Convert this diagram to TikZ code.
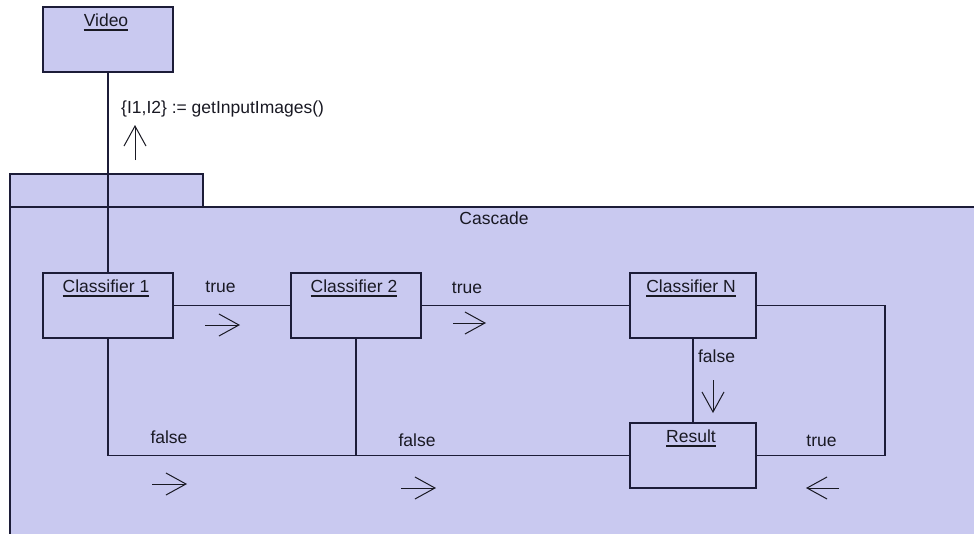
\documentclass[tikz,border=0pt]{standalone}
\usepackage{fontspec}
\setmainfont{Liberation Sans}
\usetikzlibrary{arrows.meta}
\definecolor{umlfill}{RGB}{201,201,240}
\definecolor{umlline}{RGB}{28,28,56}
\definecolor{umltext}{RGB}{25,25,35}
\begin{document}
\begin{tikzpicture}[x=1pt,y=-1pt,
  every node/.style={font=\fontsize{17.5}{20}\selectfont, text=umltext},
  obj/.style={draw=umlline, fill=umlfill, line width=1.4pt, minimum width=130pt, minimum height=65pt, inner sep=0pt},
  objname/.style={anchor=base, inner sep=0pt},
  lbl/.style={anchor=base, inner sep=0pt},
  conn/.style={draw=umlline, line width=1.4pt},
  flow/.style={draw=umltext, line width=1pt, -{Straight Barb[length=20pt,width=22pt]}}]
\useasboundingbox (0,0) rectangle (974,533);
\fill[white] (0,0) rectangle (974,533);
% package
\fill[umlfill] (10,174) rectangle (203,207);
\fill[umlfill] (10,207) rectangle (976,535);
\draw[conn] (10,207) -- (10,174) -- (203,174) -- (203,207);
\draw[conn] (976,207) -- (10,207) -- (10,535);
\node[lbl] (cascade) at (494,224) {Cascade};
% objects
\node[obj] (video) at (108,39.5) {};
\node[obj] (c1) at (108,305.5) {};
\node[obj] (c2) at (356,305.5) {};
\node[obj, minimum width=126pt] (cn) at (693,305.5) {};
\node[obj, minimum width=126pt] (res) at (693,455.5) {};
% names
\foreach \n/\t in {video/Video, c1/Classifier 1, c2/Classifier 2, cn/Classifier N, res/Result}{
  \node[objname] (\n t) at ([xshift=-2pt,yshift=-20pt]\n.north) {\t};
  \draw[umltext, line width=1.5pt] ([yshift=-3.5pt]\n t.base west) -- ([yshift=-3.5pt]\n t.base east);
}
% connectors
\draw[conn] (video) -- (c1);
\draw[conn] (c1) -- (c2);
\draw[conn] (c2) -- (cn);
\draw[conn] (c1.south) |- (res.west);
\draw[conn] (c2.south) -- (c2.south |- res.west);
\draw[conn] (cn) -- (res);
\coordinate (rt) at (885,305.5);
\draw[conn] (cn.east) -- (rt) |- (res.east);
% labels
\node[lbl, anchor=base west] (msg) at (121,113) {\{I1,I2\} := getInputImages()};
\node[lbl] (t1) at (220.5,292) {true};
\node[lbl] (t2) at (467,293) {true};
\node[lbl] (f1) at (169,443) {false};
\node[lbl] (f2) at (417,446) {false};
\node[lbl] (fn) at (716.5,362) {false};
\node[lbl] (t3) at (821.5,446) {true};
% message arrows
\coordinate (a0s) at (135,160); \coordinate (a0e) at (135,125);
\coordinate (a1s) at (205,325); \coordinate (a1e) at (240,325);
\coordinate (a2s) at (453,323); \coordinate (a2e) at (486,323);
\coordinate (a3s) at (152,484); \coordinate (a3e) at (187,484);
\coordinate (a4s) at (401,488); \coordinate (a4e) at (436,488);
\coordinate (a5s) at (713,380); \coordinate (a5e) at (713,413);
\coordinate (a6s) at (839,488); \coordinate (a6e) at (806,488);
\foreach \i in {0,...,6}{\draw[flow] (a\i s) -- (a\i e);}
\end{tikzpicture}
\end{document}
